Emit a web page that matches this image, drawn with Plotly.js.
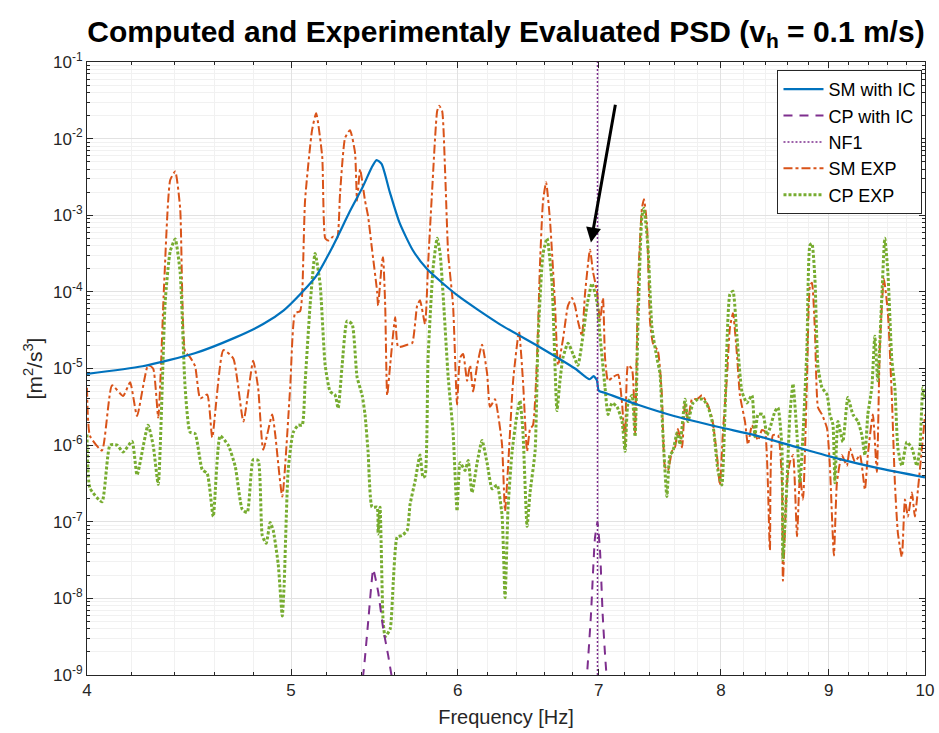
<!DOCTYPE html>
<html>
<head>
<meta charset="utf-8">
<script src="https://cdn.plot.ly/plotly-3.0.1.min.js"></script>
<style>html,body{margin:0;padding:0;background:#fff;}#chart{width:939px;height:733px;}</style>
</head>
<body>
<div id="chart"></div>
<script>
// ---- Data ----
const smIcFreq = [4.00,4.25,4.50,4.70,4.85,4.96,5.05,5.14,5.23,5.33,5.41,5.46,5.49,5.52,5.57,5.63,5.71,5.80,6.00,6.28,6.56,6.82,6.93,6.96,6.985,7.00,7.05,7.30,7.60,8.00,8.30,8.70,9.10,9.50,10.0];
const smIcPsd  = [8.51e-6,1.07e-5,1.58e-5,2.51e-5,3.80e-5,5.75e-5,9.33e-5,1.62e-4,3.80e-4,1.10e-3,2.40e-3,4.17e-3,5.25e-3,4.68e-3,2.00e-3,7.94e-4,3.55e-4,2.00e-4,8.91e-5,3.80e-5,1.91e-5,1.00e-5,7.24e-6,7.94e-6,7.08e-6,5.13e-6,4.79e-6,3.39e-6,2.40e-6,1.70e-6,1.35e-6,9.33e-7,6.61e-7,5.01e-7,3.80e-7];

const cpIcFreq = [4.00,5.36,5.41,5.44,5.47,5.50,5.53,5.56,5.58,5.63,6.80,6.88,6.91,6.94,6.97,6.99,7.01,7.03,7.06,7.12,10.0];
const cpIcPsd  = [1e-13,3e-10,1.0e-9,5.0e-9,2.4e-8,1.2e-8,4.0e-9,1.8e-9,1.0e-9,3e-10,1e-12,3e-10,1.0e-9,6.0e-9,6.0e-8,1.0e-7,4.0e-8,6.0e-9,1.0e-9,3e-10,1e-13];

const nf1Freq = [6.99,6.99];
const nf1Psd  = [1e-9,1e-1];

const smExpFreq = [4.00,4.013,4.066,4.111,4.161,4.193,4.225,4.276,4.300,4.324,4.352,4.381,4.405,4.429,4.453,4.477,4.502,4.527,4.562,4.587,4.643,4.694,4.746,4.797,4.823,4.850,4.898,4.914,4.952,4.995,5.022,5.050,5.061,5.077,5.116,5.139,5.173,5.190,5.207,5.235,5.258,5.275,5.304,5.333,5.362,5.374,5.392,5.421,5.439,5.463,5.493,5.499,5.523,5.529,5.542,5.554,5.572,5.603,5.621,5.677,5.708,5.739,5.757,5.789,5.808,5.834,5.866,5.879,5.898,5.917,5.937,5.969,5.995,6.015,6.035,6.061,6.081,6.101,6.128,6.161,6.195,6.215,6.249,6.270,6.297,6.318,6.339,6.374,6.415,6.443,6.472,6.493,6.514,6.543,6.564,6.586,6.608,6.636,6.673,6.695,6.731,6.768,6.798,6.820,6.842,6.872,6.895,6.933,6.956,6.986,7.009,7.032,7.048,7.071,7.110,7.149,7.180,7.204,7.227,7.259,7.283,7.307,7.338,7.354,7.378,7.403,7.427,7.467,7.500,7.525,7.550,7.583,7.608,7.633,7.667,7.692,7.717,7.751,7.794,7.836,7.879,7.922,7.965,7.991,8.017,8.053,8.079,8.106,8.141,8.168,8.213,8.240,8.276,8.303,8.331,8.367,8.394,8.440,8.468,8.515,8.552,8.561,8.599,8.627,8.656,8.694,8.722,8.751,8.789,8.818,8.837,8.866,8.896,8.935,8.984,9.012,9.052,9.082,9.131,9.181,9.211,9.262,9.313,9.364,9.394,9.446,9.487,9.518,9.560,9.602,9.644,9.676,9.708,9.750,9.783,9.815,9.858,9.890,9.923,9.977,10.0];
const smExpPsd  = [5.62e-6,1.32e-6,8.51e-7,6.03e-6,4.37e-6,6.61e-6,2.40e-6,1.10e-5,1.00e-5,2.29e-6,1.26e-4,2.88e-3,3.72e-3,1.23e-3,1.66e-5,1.41e-5,1.07e-5,4.07e-6,4.57e-6,1.26e-6,1.74e-5,1.35e-5,2.04e-6,1.26e-5,5.62e-6,8.71e-7,2.51e-6,1.38e-6,2.14e-7,5.62e-6,5.25e-5,5.62e-5,9.33e-5,1.55e-3,1.29e-2,2.14e-2,5.89e-3,5.01e-4,4.68e-4,5.25e-4,5.01e-4,1.91e-3,1.02e-2,1.29e-2,6.61e-3,1.55e-3,3.98e-3,1.55e-3,9.77e-4,3.55e-4,1.02e-4,6.61e-5,2.51e-4,2.82e-4,6.61e-5,4.47e-6,1.10e-5,4.68e-5,1.91e-5,2.04e-5,2.14e-5,6.61e-5,7.76e-5,3.80e-5,2.29e-4,2.14e-3,2.29e-2,2.69e-2,2.29e-2,3.80e-3,3.16e-4,6.61e-5,3.39e-6,1.38e-5,1.55e-5,6.92e-6,1.10e-5,5.01e-6,1.10e-5,2.04e-5,8.71e-6,3.16e-6,3.98e-6,2.51e-6,1.02e-6,1.38e-7,5.25e-7,6.92e-6,3.02e-5,6.92e-6,8.32e-7,1.62e-6,1.82e-6,1.38e-5,2.29e-4,1.55e-3,2.69e-3,8.71e-4,6.61e-5,1.10e-5,2.40e-5,6.61e-5,8.32e-5,6.61e-5,4.17e-5,2.69e-5,9.33e-5,3.55e-4,1.82e-4,1.02e-4,4.17e-5,8.32e-5,1.38e-5,6.92e-6,7.76e-6,8.32e-6,3.55e-6,1.02e-6,1.10e-5,9.77e-6,1.45e-6,1.29e-4,1.23e-3,1.62e-3,7.76e-4,4.17e-5,2.14e-5,1.70e-5,4.47e-6,5.25e-7,4.68e-7,8.32e-7,9.33e-7,1.62e-6,9.33e-7,3.55e-6,2.04e-6,3.98e-6,3.98e-6,4.47e-6,3.55e-6,2.29e-6,7.41e-7,3.02e-7,1.45e-6,7.76e-6,3.39e-5,5.25e-5,1.55e-5,4.47e-6,2.04e-6,1.02e-6,1.82e-6,1.45e-6,1.15e-6,1.58e-6,1.51e-6,4.27e-8,1.35e-6,1.35e-6,3.24e-7,1.70e-8,3.24e-7,6.03e-7,7.41e-7,6.46e-8,3.98e-7,1.95e-7,6.92e-6,1.20e-4,1.32e-4,3.16e-5,3.09e-6,2.51e-6,1.66e-6,5.37e-7,3.63e-8,3.24e-7,7.41e-7,5.37e-7,9.12e-7,6.03e-7,7.41e-7,2.63e-7,7.41e-7,2.51e-6,4.47e-7,1.91e-5,1.48e-4,5.37e-5,4.17e-6,3.24e-7,7.08e-8,3.47e-8,1.95e-7,1.17e-7,2.40e-7,1.17e-7,2.63e-7,1.23e-6,2.51e-6];

const cpExpFreq = [4.00,4.013,4.066,4.102,4.134,4.161,4.202,4.225,4.276,4.300,4.324,4.357,4.381,4.405,4.429,4.453,4.477,4.502,4.537,4.562,4.592,4.627,4.668,4.704,4.740,4.766,4.797,4.823,4.845,4.866,4.887,4.903,4.930,4.952,4.962,4.984,5.011,5.039,5.061,5.077,5.105,5.133,5.161,5.190,5.218,5.247,5.264,5.287,5.316,5.345,5.374,5.404,5.421,5.439,5.463,5.493,5.499,5.511,5.529,5.542,5.572,5.591,5.615,5.645,5.677,5.695,5.726,5.757,5.776,5.789,5.808,5.840,5.866,5.885,5.904,5.937,5.969,5.995,6.015,6.048,6.068,6.094,6.128,6.161,6.195,6.229,6.263,6.297,6.318,6.339,6.367,6.401,6.422,6.443,6.472,6.493,6.529,6.550,6.586,6.615,6.651,6.687,6.709,6.731,6.768,6.805,6.842,6.880,6.910,6.948,6.986,7.009,7.048,7.071,7.102,7.141,7.180,7.204,7.227,7.259,7.283,7.307,7.338,7.354,7.386,7.419,7.459,7.484,7.508,7.541,7.566,7.591,7.625,7.650,7.692,7.717,7.760,7.802,7.845,7.888,7.931,7.974,8.008,8.035,8.079,8.106,8.141,8.186,8.231,8.276,8.303,8.331,8.376,8.413,8.440,8.487,8.515,8.552,8.561,8.599,8.627,8.656,8.694,8.722,8.751,8.789,8.818,8.837,8.866,8.896,8.935,8.984,9.012,9.042,9.062,9.092,9.141,9.191,9.242,9.293,9.333,9.364,9.394,9.435,9.466,9.497,9.539,9.570,9.602,9.644,9.676,9.708,9.750,9.804,9.858,9.912,9.944,9.977,10.0];
const cpExpPsd  = [1.38e-6,2.75e-7,1.82e-7,1.00e-6,1.00e-6,8.13e-7,1.12e-6,4.07e-7,1.82e-6,1.00e-6,3.09e-7,7.41e-5,3.39e-4,4.90e-4,1.78e-4,5.62e-6,1.48e-6,1.41e-6,4.79e-7,4.27e-7,1.17e-7,1.32e-6,1.00e-6,5.25e-7,1.45e-7,1.32e-7,6.46e-7,6.31e-7,6.61e-8,5.25e-8,9.77e-8,7.76e-8,2.82e-8,5.89e-9,1.45e-8,4.68e-7,1.45e-6,1.82e-6,1.82e-6,6.31e-6,6.61e-5,3.16e-4,1.29e-4,1.10e-5,5.01e-6,4.47e-6,3.02e-6,1.10e-5,4.17e-5,3.80e-5,7.76e-6,4.47e-6,2.51e-6,8.32e-7,1.55e-7,1.55e-7,6.92e-8,1.55e-7,5.25e-9,3.16e-9,3.98e-9,1.62e-8,6.31e-8,6.61e-8,7.76e-8,1.70e-7,3.39e-7,7.41e-7,3.80e-7,3.98e-7,1.38e-5,2.04e-4,5.01e-4,3.16e-4,9.33e-5,7.76e-6,1.45e-6,1.38e-7,5.89e-7,4.68e-7,6.31e-7,2.40e-7,5.89e-7,1.15e-6,5.89e-7,2.69e-7,3.02e-7,1.23e-7,1.02e-8,1.55e-7,8.32e-7,2.51e-6,3.80e-6,1.45e-6,8.71e-8,2.40e-7,8.32e-7,2.40e-5,3.16e-4,5.01e-4,1.29e-4,2.82e-6,6.92e-6,1.38e-5,2.14e-5,1.55e-5,1.10e-5,2.69e-5,6.61e-5,1.29e-4,7.41e-5,2.69e-5,5.62e-6,2.51e-6,3.55e-6,3.16e-6,2.04e-6,8.32e-7,3.55e-6,4.47e-6,1.29e-6,4.17e-5,9.77e-4,1.23e-3,3.98e-4,3.39e-5,1.38e-5,8.71e-6,1.45e-6,2.14e-7,7.41e-7,8.32e-7,1.45e-6,1.02e-6,3.98e-6,2.04e-6,3.55e-6,3.98e-6,3.98e-6,3.16e-6,1.82e-6,4.68e-7,3.02e-7,2.51e-6,9.33e-5,1.02e-4,2.69e-5,5.01e-6,3.55e-6,4.47e-6,1.29e-6,2.51e-6,2.51e-6,1.35e-6,1.66e-6,2.75e-6,3.09e-6,9.12e-7,3.16e-8,3.24e-7,2.51e-6,6.31e-6,1.35e-6,3.24e-7,1.35e-6,1.91e-5,4.07e-4,4.27e-4,1.48e-4,1.05e-5,5.62e-6,4.57e-6,2.51e-6,1.86e-6,3.24e-7,2.04e-6,1.10e-6,4.17e-6,2.51e-6,2.04e-6,1.35e-6,7.41e-7,2.51e-6,5.62e-6,2.63e-5,6.92e-6,8.91e-5,5.01e-4,1.82e-4,1.29e-5,5.62e-6,9.12e-7,5.37e-7,1.10e-6,9.12e-7,5.37e-7,9.12e-7,5.62e-6,4.17e-6];

const xTickVals = [4,5,6,7,8,9,10];
const xTickText = ['4','5','6','7','8','9','10'];
const yTickVals = [1e-9,1e-8,1e-7,1e-6,1e-5,1e-4,1e-3,1e-2,1e-1];
const yTickText = ['10<sup>-9</sup>','10<sup>-8</sup>','10<sup>-7</sup>','10<sup>-6</sup>','10<sup>-5</sup>','10<sup>-4</sup>','10<sup>-3</sup>','10<sup>-2</sup>','10<sup>-1</sup>'];
const arrowTip = [6.94, 4.4e-4];
const arrowTail = [7.13, 2.9e-2];

// ---- Styling ----
const FONT = 'Liberation Sans, Arial, Helvetica, sans-serif';
const AX = '#262626';

const traces = [
  {x: smExpFreq, y: smExpPsd, name: 'SM EXP', mode: 'lines', legendrank: 4,
   line: {color: '#D95319', width: 2, dash: 'dashdot', shape: 'spline', smoothing: 0.5}},
  {x: cpExpFreq, y: cpExpPsd, name: 'CP EXP', mode: 'lines', legendrank: 5,
   line: {color: '#77AC30', width: 3, dash: '3px,2px', shape: 'spline', smoothing: 0.5}},
  {x: smIcFreq, y: smIcPsd, name: 'SM with IC', mode: 'lines', legendrank: 1,
   line: {color: '#0072BD', width: 2.2, shape: 'spline', smoothing: 0.6}},
  {x: cpIcFreq, y: cpIcPsd, name: 'CP with IC', mode: 'lines', legendrank: 2,
   line: {color: '#7E2F8E', width: 2, dash: '9px,7px', shape: 'spline', smoothing: 0.4}},
  {x: nf1Freq, y: nf1Psd, name: 'NF1', mode: 'lines', legendrank: 3,
   line: {color: '#7E2F8E', width: 1.5, dash: '2px,2px'}}
];

const layout = {
  width: 939, height: 733,
  paper_bgcolor: '#fff', plot_bgcolor: '#fff',
  margin: {l: 87, r: 14, t: 62, b: 58},
  font: {family: FONT, color: AX, size: 17},
  showlegend: true,
  title: {
    text: '<b>Computed and Experimentaly Evaluated PSD (v<sub>h</sub> = 0.1 m/s)</b>',
    font: {family: FONT, size: 30, color: '#000'},
    x: 0.5, xref: 'paper', xanchor: 'center',
    y: 1 - 31/733, yref: 'container', yanchor: 'middle'
  },
  xaxis: {
    type: 'log', range: [Math.log10(4), 1],
    tickmode: 'array', tickvals: xTickVals, ticktext: xTickText,
    ticks: 'inside', ticklen: 6, tickcolor: AX,
    showline: true, linecolor: AX, linewidth: 1, mirror: 'ticks',
    showgrid: true, gridcolor: '#e2e2e2', gridwidth: 1,
    zeroline: false,
    tickfont: {size: 17, color: AX},
    minor: {dtick: 'L0.2', tick0: 4, ticks: 'inside', ticklen: 3, tickcolor: AX, showgrid: true, gridcolor: '#f1f1f1'},
    title: {text: 'Frequency [Hz]', font: {size: 20, color: AX}, standoff: 10}
  },
  yaxis: {
    type: 'log', range: [-9, -1],
    tickmode: 'array', tickvals: yTickVals, ticktext: yTickText,
    ticks: 'inside', ticklen: 6, tickcolor: AX,
    showline: true, linecolor: AX, linewidth: 1, mirror: 'ticks',
    showgrid: true, gridcolor: '#e2e2e2', gridwidth: 1,
    zeroline: false,
    tickfont: {size: 17, color: AX},
    minor: {dtick: 'D1', ticks: 'inside', ticklen: 3, tickcolor: AX, showgrid: true, gridcolor: '#f1f1f1'},
    title: {text: '[m<sup>2</sup>/s<sup>3</sup>]', font: {size: 21, color: AX}, standoff: 4}
  },
  legend: {
    x: 0.997, xanchor: 'right', y: 0.987, yanchor: 'top',
    bgcolor: '#fff', bordercolor: AX, borderwidth: 1,
    font: {size: 18, color: '#000'}, traceorder: 'normal',
    tracegroupgap: 0, itemwidth: 40
  },
  annotations: [{
    x: Math.log10(arrowTip[0]), y: Math.log10(arrowTip[1]), xref: 'x', yref: 'y',
    ax: Math.log10(arrowTail[0]), ay: Math.log10(arrowTail[1]), axref: 'x', ayref: 'y',
    text: '', showarrow: true, arrowhead: 2, arrowsize: 1, arrowwidth: 3, arrowcolor: '#000'
  }]
};

Plotly.newPlot('chart', traces, layout, {displayModeBar: false, staticPlot: true});
</script>
</body>
</html>
